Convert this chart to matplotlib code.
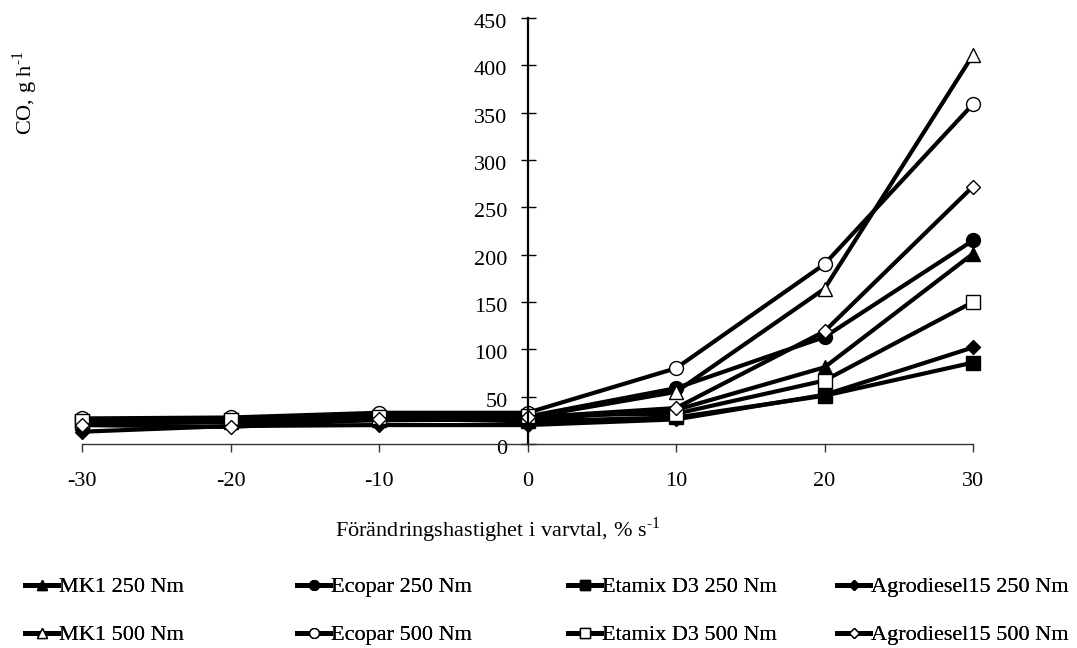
import matplotlib
matplotlib.use("Agg")
import matplotlib.pyplot as plt
import matplotlib.transforms as mtransforms
from matplotlib.lines import Line2D

plt.rcParams['font.family'] = ['Liberation Serif', 'DejaVu Serif']
plt.rcParams['axes.unicode_minus'] = False
plt.rcParams['mathtext.fontset'] = 'custom'
plt.rcParams['mathtext.rm'] = 'Liberation Serif'

x = [-30, -20, -10, 0, 10, 20, 30]
mk1_250 = [22, 23, 25, 26, 36, 81, 201]
ecopar_250 = [25, 26, 30, 29, 59, 113, 215]
etamix_250 = [24, 25, 27, 24, 28, 51, 86]
agro_250 = [13, 19, 20, 20, 26, 52, 102]
mk1_500 = [23, 24, 28, 28, 55, 164, 411]
ecopar_500 = [27, 28, 33, 33, 80, 190, 359]
etamix_500 = [24, 25, 29, 30, 32, 67, 150]
agro_500 = [20, 18, 26, 28, 38, 119, 272]

labels = ["MK1 250 Nm", "Ecopar 250 Nm", "Etamix D3 250 Nm", "Agrodiesel15 250 Nm",
          "MK1 500 Nm", "Ecopar 500 Nm", "Etamix D3 500 Nm", "Agrodiesel15 500 Nm"]
xticks = [-30, -20, -10, 0, 10, 20, 30]
yticks = [0, 50, 100, 150, 200, 250, 300, 350, 400, 450]

series = [
    (mk1_250, '^', 'black', 10, labels[0]),
    (ecopar_250, 'o', 'black', 10, labels[1]),
    (etamix_250, 's', 'black', 9.5, labels[2]),
    (agro_250, 'D', 'black', 7, labels[3]),
    (mk1_500, '^', 'white', 10, labels[4]),
    (ecopar_500, 'o', 'white', 10, labels[5]),
    (etamix_500, 's', 'white', 9.5, labels[6]),
    (agro_500, 'D', 'white', 7, labels[7]),
]

W, H = 1077, 648
fig = plt.figure(figsize=(W/100, H/100), dpi=100)
ax = fig.add_axes([82/W, 1-444/H, (973-82)/W, (444-18)/H])

handles = []
for vals, m, fc, ms, lab in series:
    h, = ax.plot(x, vals, color='black', lw=3, marker=m, markersize=ms,
                 markerfacecolor=fc, markeredgecolor='black', markeredgewidth=1.0,
                 label=lab, clip_on=False)
    handles.append(h)

ax.set_xlim(-30, 30)
ax.set_ylim(0, 450)
ax.spines['left'].set_position(('data', 0))
ax.spines['right'].set_visible(False)
ax.spines['top'].set_visible(False)
ax.spines['left'].set_linewidth(1.6)
ax.spines['bottom'].set_linewidth(1.0)
ax.spines['bottom'].set_color('#333333')
ax.set_xticks(xticks)
ax.set_yticks(yticks)
ax.tick_params(axis='x', direction='out', length=5.8, width=1, labelsize=16, pad=14,
               color='#333333')
ax.tick_params(axis='y', direction='inout', length=10.8, width=1, labelsize=16, pad=9)
off = mtransforms.ScaledTranslation(0, -3/100, fig.dpi_scale_trans)
for lab in ax.get_yticklabels():
    lab.set_transform(lab.get_transform() + off)

fig.text(335/W, 1-530/H, "Förändringshastighet i varvtal, % s$^{\\mathregular{\u20101}}$",
         ha='left', va='center', fontsize=16)
fig.text(25/W, 1-93/H, "CO, g h$^{\\mathregular{\u20101}}$", rotation=90,
         ha='center', va='center', fontsize=16)

col_x = [25, 297, 568, 837]
row_y = [587, 635]
for i, h in enumerate(handles):
    col = i % 4
    row = i // 4
    proxy = Line2D([], [], color='black', lw=3.5, marker=h.get_marker(),
                   markersize=h.get_markersize() * 0.7,
                   markerfacecolor=h.get_markerfacecolor(), markeredgecolor='black',
                   markeredgewidth=1.0)
    leg = fig.legend([proxy], [labels[i]], loc='center left',
                     bbox_to_anchor=(col_x[col]/W, 1-row_y[row]/H),
                     frameon=False, fontsize=16, handlelength=1.5,
                     handletextpad=0.05, borderpad=0, borderaxespad=0)
    fig.add_artist(leg)

fig.savefig("out.png", dpi=100)
